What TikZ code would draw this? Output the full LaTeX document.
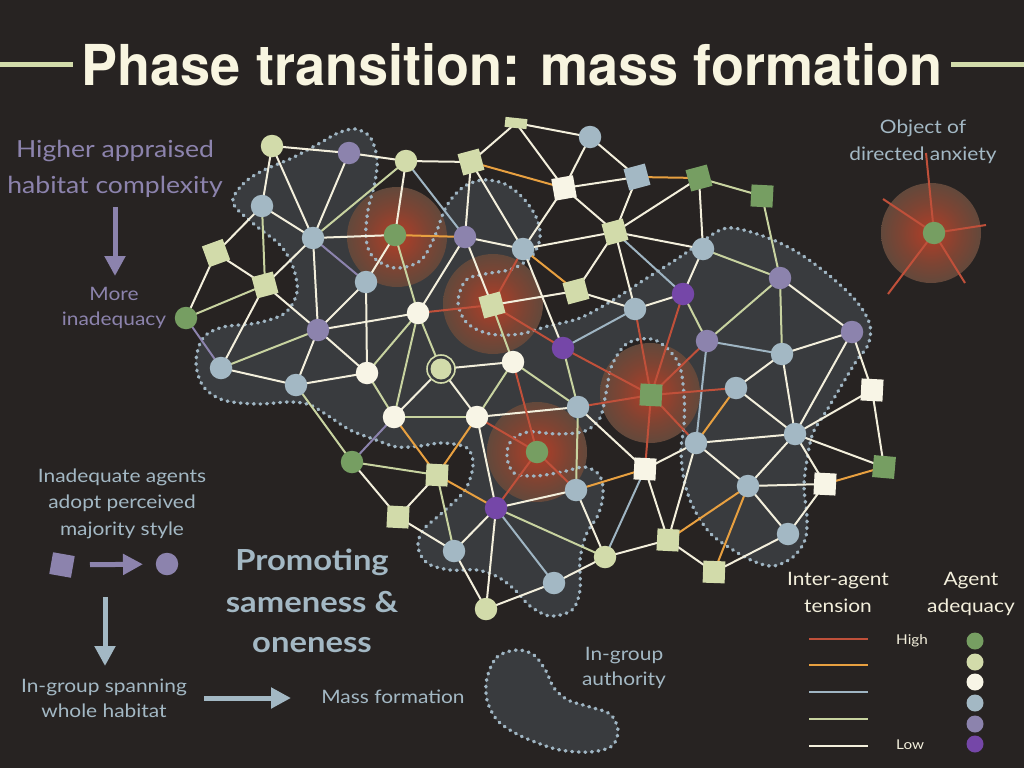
\documentclass[tikz,border=0pt]{standalone}
\usepackage{fontspec}
\setmainfont{Lato}[FakeStretch=1.13]
\newfontfamily\titlefont{TeX Gyre Heros}
\usetikzlibrary{arrows.meta}
\definecolor{bg}{HTML}{272322}
\definecolor{blobc}{HTML}{393B3E}
\definecolor{dotc}{HTML}{9FB5C3}
\definecolor{cdg}{HTML}{769E62}
\definecolor{clg}{HTML}{D2DBAA}
\definecolor{ccr}{HTML}{F8F5E6}
\definecolor{clb}{HTML}{A3B8C4}
\definecolor{clv}{HTML}{8C83AD}
\definecolor{cpu}{HTML}{7547A8}
\definecolor{ered}{HTML}{C0503A}
\definecolor{eora}{HTML}{E8A040}
\definecolor{eblu}{HTML}{9FB5C3}
\definecolor{egrn}{HTML}{C8D3A0}
\definecolor{ecrm}{HTML}{F3EFDC}
\definecolor{titlec}{HTML}{F8F5E0}
\definecolor{glowA}{HTML}{A53F2A}
\definecolor{glowB}{HTML}{7E4433}
\definecolor{glowC}{HTML}{5A4A3E}
\definecolor{glowD}{HTML}{4C4B42}
\pgfdeclareradialshading{glowshade}{\pgfpoint{0bp}{0bp}}{color(0bp)=(glowA); color(4bp)=(glowA); color(15bp)=(glowB); color(28bp)=(glowC); color(50bp)=(glowD)}
\pgfdeclarelayer{back}
\pgfdeclarelayer{edgel}
\pgfsetlayers{back,edgel,main}
\newcommand{\mainblob}{plot[smooth cycle, tension=0.55] coordinates {(233,203) (243,184) (262,171) (292,158) (320,143) (338,133) (355,129) (370,137) (377,158) (375,182) (368,210) (366,238) (373,257) (395,268) (420,261) (434,238) (446,207) (462,188) (482,180) (505,184) (524,199) (537,219) (540,238) (532,256) (512,269) (485,274) (466,280) (458,302) (467,323) (490,334) (520,334) (548,326) (580,318) (613,300) (647,278) (680,257) (700,243) (727,228) (763,236) (797,252) (830,276) (857,302) (870,325) (868,345) (857,360) (843,383) (827,410) (813,433) (807,460) (804,487) (807,517) (805,540) (793,557) (773,566) (753,561) (733,550) (710,533) (693,507) (684,480) (681,450) (684,425) (684,395) (678,362) (655,340) (628,343) (612,365) (606,393) (600,418) (585,431) (558,434) (528,432) (511,441) (507,457) (514,473) (535,476) (562,472) (585,467) (600,476) (603,495) (598,515) (586,535) (580,560) (580,590) (572,610) (550,616) (530,606) (515,590) (498,577) (477,570) (450,570) (427,563) (418,547) (423,530) (443,512) (465,490) (473,465) (467,448) (443,443) (420,446) (397,447) (376,440) (350,430) (330,417) (310,405) (290,402) (257,404) (223,400) (203,386) (196,362) (203,338) (223,327) (257,323) (285,313) (297,292) (293,267) (280,245) (255,225)}}
\newcommand{\legblob}{plot[smooth cycle, tension=0.55] coordinates {(487,678) (497,657) (517,650) (534,655) (546,671) (554,688) (568,700) (590,707) (610,714) (618,730) (612,746) (590,752) (560,750) (535,742) (515,733) (497,720) (487,700)}}
\begin{document}
\begin{tikzpicture}[x=1pt,y=-1pt,
  cn/.style={circle, inner sep=0pt, minimum size=22.5pt},
  sq/.style={rectangle, inner sep=0pt, minimum size=22pt},
  lc/.style={circle, inner sep=0pt, minimum size=17pt},
  dotline/.style={draw=dotc, line width=3.4pt, line cap=round, dash pattern=on 0.8pt off 5.8pt},
  ed/.style={line width=2pt},
  txtA/.style={font=\fontsize{23.5}{28}\selectfont, text=clv, anchor=base, inner sep=0pt},
  txtB/.style={font=\fontsize{18.5}{22}\selectfont, anchor=base, inner sep=0pt},
  txtC/.style={font=\fontsize{29}{32}\selectfont\bfseries, text=clb, anchor=base, inner sep=0pt},
  fatarrow/.style={line width=5pt, -{Triangle[width=20pt,length=20pt]}}
]
\useasboundingbox (0,0) rectangle (1024,768);
\begin{pgfonlayer}{back}
\fill[bg] (0,0) rectangle (1024,768);
\fill[blobc] \mainblob;
\fill[blobc] \legblob;
\foreach \p in {(397,237),(493,304),(650,393),(537,452),(931,233)}
  \shade[shading=glowshade] \p circle (50);
\path[dotline] \mainblob;
\path[dotline] \legblob;
\end{pgfonlayer}

% title
\node[text=titlec, anchor=base, inner sep=0pt] (title) at (512,85) {\resizebox{860pt}{42pt}{\titlefont\bfseries Phase transition: mass formation}};
\draw[clg, line width=5pt] (0,64) -- (73,64);
\draw[clg, line width=5pt] (951,64) -- (1024,64);

% nodes
\node[cn, fill=clg] (n1) at (272,146) {};
\node[cn, fill=clv] (n2) at (349,153) {};
\node[cn, fill=clg] (n3) at (406,161) {};
\node[sq, fill=clg, rotate=15] (n4) at (471,162) {};
\node[rectangle, inner sep=0pt, minimum width=22pt, minimum height=10pt, fill=clg, rotate=-6] (n5) at (516,123) {};
\node[cn, fill=clb] (n6) at (590,137) {};
\node[sq, fill=ccr, rotate=10] (n7) at (564,188) {};
\node[sq, fill=clb, rotate=15] (n8) at (637,177) {};
\node[sq, fill=cdg, rotate=15] (n9) at (699,178) {};
\node[sq, fill=cdg, rotate=-3] (n10) at (762,196) {};
\node[cn, fill=clb] (n11) at (262,206) {};
\node[cn, fill=clb] (n12) at (313,238) {};
\node[cn, fill=cdg] (n13) at (395,235) {};
\node[cn, fill=clv] (n14) at (465,237) {};
\node[cn, fill=clb] (n15) at (523,249) {};
\node[sq, fill=clg, rotate=15] (n16) at (615,232) {};
\node[cn, fill=clb] (n17) at (703,249) {};
\node[sq, fill=clg, rotate=20] (n18) at (216,253) {};
\node[sq, fill=clg, rotate=15] (n19) at (265,285) {};
\node[cn, fill=cdg] (n20) at (186,318) {};
\node[cn, fill=clb] (n21) at (366,282) {};
\node[sq, fill=clg, rotate=15] (n22) at (492,305) {};
\node[sq, fill=clg, rotate=15] (n23) at (576,291) {};
\node[cn, fill=cpu] (n24) at (683,294) {};
\node[cn, fill=clv] (n25) at (780,278) {};
\node[cn, fill=clv] (n26) at (318,330) {};
\node[cn, fill=ccr] (n27) at (418,313) {};
\node[cn, fill=clb] (n28) at (635,309) {};
\node[cn, fill=cpu] (n29) at (563,348) {};
\node[cn, fill=clv] (n30) at (707,341) {};
\node[cn, fill=clv] (n31) at (852,332) {};
\node[cn, fill=clb] (n32) at (221,368) {};
\node[cn, fill=clb] (n33) at (296,385) {};
\node[cn, fill=ccr] (n34) at (367,373) {};
\node[circle, inner sep=0pt, minimum size=28pt, draw=clg, line width=1.6pt, fill=blobc] (n35) at (441,369) {};
\fill[clg] (n35.center) circle (10.5);
\node[cn, fill=ccr] (n36) at (513,362) {};
\node[cn, fill=clb] (n37) at (782,354) {};
\node[sq, fill=cdg, rotate=-3] (n38) at (651,395) {};
\node[cn, fill=clb] (n39) at (736,388) {};
\node[sq, fill=ccr, rotate=-3] (n40) at (872,390) {};
\node[cn, fill=ccr] (n41) at (394,417) {};
\node[cn, fill=ccr] (n42) at (477,417) {};
\node[cn, fill=clb] (n43) at (578,407) {};
\node[cn, fill=clb] (n44) at (696,443) {};
\node[cn, fill=clb] (n45) at (795,434) {};
\node[cn, fill=cdg] (n46) at (537,452) {};
\node[cn, fill=cdg] (n47) at (352,462) {};
\node[sq, fill=clg, rotate=-3] (n48) at (437,475) {};
\node[sq, fill=ccr, rotate=-3] (n49) at (645,469) {};
\node[sq, fill=cdg, rotate=-5] (n50) at (884,467) {};
\node[cn, fill=clb] (n51) at (576,490) {};
\node[cn, fill=clb] (n52) at (748,486) {};
\node[sq, fill=ccr, rotate=-3] (n53) at (825,484) {};
\node[sq, fill=clg, rotate=-3] (n54) at (398,517) {};
\node[cn, fill=cpu] (n55) at (496,508) {};
\node[cn, fill=clb] (n56) at (454,551) {};
\node[cn, fill=clg] (n57) at (605,557) {};
\node[sq, fill=clg, rotate=-3] (n58) at (668,540) {};
\node[cn, fill=clb] (n59) at (788,534) {};
\node[cn, fill=clb] (n60) at (554,583) {};
\node[cn, fill=clg] (n61) at (486,609) {};
\node[sq, fill=clg, rotate=-2] (n62) at (714,572) {};
\node[cn, fill=cdg] (anx) at (934,233) {};

\coordinate (r1) at (926,153);
\coordinate (r2) at (883,199);
\coordinate (r3) at (986,225);
\coordinate (r4) at (965,283);
\coordinate (r5) at (888,294);

\begin{pgfonlayer}{edgel}
\foreach \a/\b in {1/2,2/3,3/4,1/11,1/12,2/12,3/13,11/12,11/18,12/13,12/19,12/26,13/21,14/27,14/22,18/19,18/20,19/32,19/26,21/26,21/34,4/5,5/6,5/7,6/7,6/8,7/8,7/16,7/15,8/16,9/16,9/17,15/16,16/17,16/23,16/28,4/15,14/15,4/14,15/29,22/23,23/28,17/24,24/28,25/31,31/37,31/45,31/40,37/39,37/45,39/45,40/45,40/50,44/45,45/50,45/52,45/53,44/52,44/49,44/58,43/49,51/57,49/58,57/58,52/53,52/59,53/59,59/62,58/62,57/60,51/55,48/54,54/56,55/56,55/61,56/61,60/61,42/55,32/33,26/33,26/34,26/27,33/34,35/41,35/42,35/36,42/43,47/54}
  \draw[ed, ecrm] (n\a.center) -- (n\b.center);
\foreach \a/\b in {3/12,11/19,13/27,19/20,9/10,10/25,17/25,24/30,25/30,25/37,29/43,43/51,22/36,27/41,27/35,27/34,26/32,33/47,34/41,36/42,36/43,41/42,47/48,48/56,55/57}
  \draw[ed, egrn] (n\a.center) -- (n\b.center);
\foreach \a/\b in {4/7,8/9,13/14,15/23,39/44,49/51,52/58,52/62,50/53,48/55,41/48,42/48}
  \draw[ed, eora] (n\a.center) -- (n\b.center);
\foreach \a/\b in {3/14,16/24,28/29,30/37,30/44,49/57,55/60}
  \draw[ed, eblu] (n\a.center) -- (n\b.center);
\foreach \a/\b in {12/21,20/32,41/47}
  \draw[ed, clv] (n\a.center) -- (n\b.center);
\foreach \a/\b in {15/22,22/27,22/29,28/38,24/38,29/38,30/38,38/39,38/43,38/44,38/49,36/46,42/46,46/55,46/51}
  \draw[ed, ered] (n\a.center) -- (n\b.center);
\foreach \r in {r1,r2,r3,r4,r5}
  \draw[ed, ered] (anx.center) -- (\r);
\end{pgfonlayer}

% left texts
\node[txtA] (t1) at (115,157) {Higher appraised};
\node[txtA] (t2) at (115,193) {habitat complexity};
\coordinate (a1s) at (115,207);
\coordinate (a1e) at (115,276);
\draw[fatarrow, clv] (a1s) -- (a1e);
\node[txtB, text=clv] (t3) at (114,300) {More};
\node[txtB, text=clv] (t4) at (114,325) {inadequacy};

\node[txtB, text=clb] (t5) at (122,482) {Inadequate agents};
\node[txtB, text=clb] (t6) at (122,508) {adopt perceived};
\node[txtB, text=clb] (t7) at (122,535) {majority style};
\node[sq, fill=clv, rotate=-10] (lsq) at (62,565) {};
\node[cn, fill=clv] (lci) at (167,564) {};
\draw[fatarrow, clv, shorten <=28pt, shorten >=24pt] (lsq.center) -- (lci.center);
\coordinate (a2s) at (105,597);
\coordinate (a2e) at (105,666);
\draw[fatarrow, clb] (a2s) -- (a2e);
\node[txtB, text=clb] (t8) at (104,692) {In-group spanning};
\node[txtB, text=clb] (t9) at (104,717) {whole habitat};
\coordinate (a3s) at (204,698);
\coordinate (a3e) at (291,698);
\draw[fatarrow, clb] (a3s) -- (a3e);
\node[txtB, text=clb] (t10) at (393,703) {Mass formation};

\node[txtC] (p1) at (312,570) {Promoting};
\node[txtC] (p2) at (312,612) {sameness \&};
\node[txtC] (p3) at (312,652) {oneness};

\node[txtB, text=clb] (t11) at (624,660) {In-group};
\node[txtB, text=clb] (t12) at (624,685) {authority};

\node[txtB, text=clb] (t13) at (923,133) {Object of};
\node[txtB, text=clb] (t14) at (923,160) {directed anxiety};

% legend
\node[txtB, text=ecrm] (l1) at (838,585) {Inter-agent};
\node[txtB, text=ecrm] (l2) at (838,612) {tension};
\node[txtB, text=ecrm] (l3) at (971,585) {Agent};
\node[txtB, text=ecrm] (l4) at (971,612) {adequacy};
\draw[ed, ered] (809,639) -- (868,639);
\draw[ed, eora] (809,665) -- (868,665);
\draw[ed, eblu] (809,692) -- (868,692);
\draw[ed, egrn] (809,719) -- (868,719);
\draw[ed, ecrm] (809,746) -- (868,746);
\node[font=\fontsize{13.5}{16}\selectfont, text=ecrm, anchor=base west, inner sep=0pt] (hi) at (896,644) {High};
\node[font=\fontsize{13.5}{16}\selectfont, text=ecrm, anchor=base west, inner sep=0pt] (lo) at (896,749) {Low};
\node[lc, fill=cdg] (g1) at (975,641) {};
\node[lc, fill=clg] (g2) at (975,662) {};
\node[lc, fill=ccr] (g3) at (975,682) {};
\node[lc, fill=clb] (g4) at (975,703) {};
\node[lc, fill=clv] (g5) at (975,724) {};
\node[lc, fill=cpu] (g6) at (975,744) {};
\end{tikzpicture}
\end{document}
